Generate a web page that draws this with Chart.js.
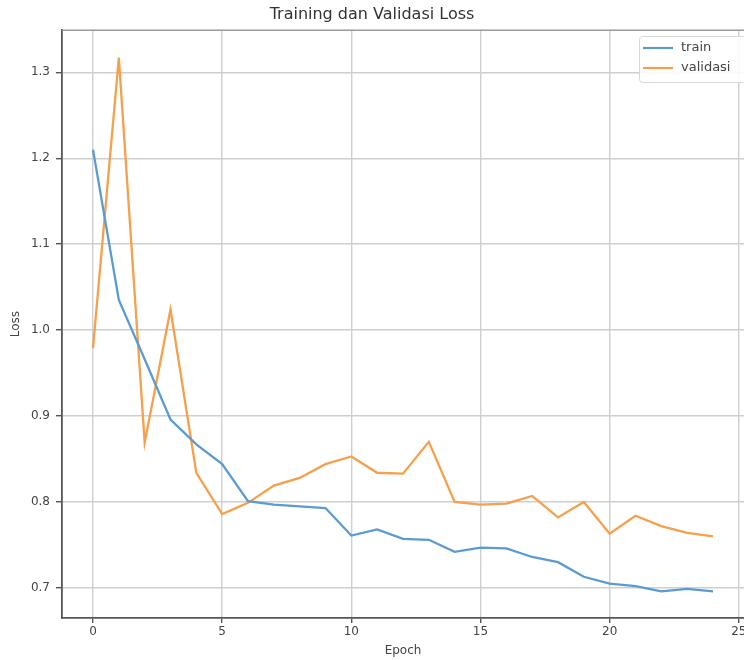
<!DOCTYPE html>
<html>
<head>
<meta charset="utf-8">
<script src="https://cdn.jsdelivr.net/npm/chart.js@4/dist/chart.umd.min.js"></script>
<style>
  html, body { margin: 0; padding: 0; background: #fff; overflow: hidden; }
  #wrap { width: 760px; height: 660px; position: relative; }
</style>
</head>
<body>
<div id="wrap"><canvas id="c"></canvas></div>
<script>
const epochs = [0,1,2,3,4,5,6,7,8,9,10,11,12,13,14,15,16,17,18,19,20,21,22,23,24];
const train = [1.210, 1.035, 0.966, 0.896, 0.867, 0.844, 0.801, 0.797, 0.795, 0.793, 0.761, 0.768, 0.757, 0.756, 0.742, 0.747, 0.746, 0.736, 0.730, 0.713, 0.705, 0.702, 0.696, 0.699, 0.696];
const validasi = [0.979, 1.317, 0.869, 1.024, 0.834, 0.786, 0.799, 0.819, 0.828, 0.844, 0.853, 0.834, 0.833, 0.870, 0.800, 0.797, 0.798, 0.807, 0.782, 0.800, 0.763, 0.784, 0.772, 0.764, 0.760];
const xTicks = [0, 5, 10, 15, 20, 25];
const yTicks = [0.7, 0.8, 0.9, 1.0, 1.1, 1.2, 1.3];
const yTickLabels = ['0.7', '0.8', '0.9', '1.0', '1.1', '1.2', '1.3'];
const seriesNames = ['train', 'validasi'];
const titleText = 'Training dan Validasi Loss';

const FONT = "'DejaVu Sans', sans-serif";

const frameAndLegend = {
  id: 'frameAndLegend',
  afterDraw(chart) {
    const ctx = chart.ctx;
    const a = chart.chartArea;
    ctx.save();
    // top border
    ctx.strokeStyle = '#9a9a9a';
    ctx.lineWidth = 1.5;
    ctx.beginPath();
    ctx.moveTo(a.left, a.top);
    ctx.lineTo(a.right + 20, a.top);
    ctx.stroke();
    // legend
    const bx = 639, by = 36, bw = 106, bh = 46;
    ctx.fillStyle = 'rgba(255,255,255,0.85)';
    ctx.strokeStyle = '#d8d8d8';
    ctx.lineWidth = 1;
    ctx.beginPath();
    if (ctx.roundRect) ctx.roundRect(bx + 0.5, by + 0.5, bw, bh, 3); else ctx.rect(bx + 0.5, by + 0.5, bw, bh);
    ctx.fill();
    ctx.stroke();
    ctx.font = '13px ' + FONT;
    ctx.textBaseline = 'middle';
    ctx.textAlign = 'left';
    chart.data.datasets.forEach((ds, i) => {
      const y = 48 + i * 20;
      ctx.strokeStyle = ds.borderColor;
      ctx.lineWidth = 2.2;
      ctx.beginPath();
      ctx.moveTo(643, y);
      ctx.lineTo(673, y);
      ctx.stroke();
      ctx.fillStyle = '#444';
      ctx.fillText(ds.label, 681, y);
    });
    ctx.restore();
  }
};

new Chart(document.getElementById('c'), {
  type: 'line',
  data: {
    datasets: [
      {
        label: seriesNames[0],
        data: epochs.map((e, i) => ({ x: e, y: train[i] })),
        borderColor: '#5b9bd0',
        backgroundColor: '#5b9bd0',
        borderWidth: 2.3,
        pointRadius: 0,
        tension: 0
      },
      {
        label: seriesNames[1],
        data: epochs.map((e, i) => ({ x: e, y: validasi[i] })),
        borderColor: '#f5a04c',
        backgroundColor: '#f5a04c',
        borderWidth: 2.3,
        pointRadius: 0,
        tension: 0
      }
    ]
  },
  options: {
    responsive: true,
    maintainAspectRatio: false,
    animation: false,
    layout: { padding: { left: 0, right: 16, top: 0, bottom: 0 } },
    plugins: {
      legend: { display: false },
      tooltip: { enabled: false },
      title: {
        display: true,
        text: titleText,
        color: '#333',
        font: { family: FONT, size: 16, weight: 'normal' },
        padding: { top: 5, bottom: 6 }
      }
    },
    scales: {
      x: {
        type: 'linear',
        min: -1.2,
        max: 25.2,
        afterBuildTicks(scale) { scale.ticks = xTicks.map(v => ({ value: v })); },
        afterFit(scale) { scale.height = 42; },
        ticks: {
          autoSkip: false,
          maxRotation: 0,
          padding: 2,
          color: '#444',
          font: { family: FONT, size: 12 },
          callback: (v) => String(v)
        },
        grid: { color: '#cfcfcf', lineWidth: 1.4, tickLength: 5, tickColor: '#555', drawTicks: true },
        border: { color: '#555', width: 1.8 },
        title: {
          display: true,
          text: 'Epoch',
          color: '#444',
          font: { family: FONT, size: 12 },
          padding: { top: 0, bottom: 2 }
        }
      },
      y: {
        type: 'linear',
        min: 0.665,
        max: 1.349,
        afterBuildTicks(scale) { scale.ticks = yTicks.map(v => ({ value: v })); },
        afterFit(scale) { scale.width = 62; },
        ticks: {
          autoSkip: false,
          padding: 6,
          color: '#444',
          font: { family: FONT, size: 12 },
          callback: (v) => { const i = yTicks.findIndex(t => Math.abs(t - v) < 1e-9); return i >= 0 ? yTickLabels[i] : ''; }
        },
        grid: { color: '#cfcfcf', lineWidth: 1.4, tickLength: 6, tickColor: '#555', drawTicks: true },
        border: { color: '#555', width: 1.8 },
        title: {
          display: true,
          text: 'Loss',
          color: '#444',
          font: { family: FONT, size: 12 },
          padding: { top: 9, bottom: 0 }
        }
      }
    }
  },
  plugins: [frameAndLegend]
});
</script>
</body>
</html>
